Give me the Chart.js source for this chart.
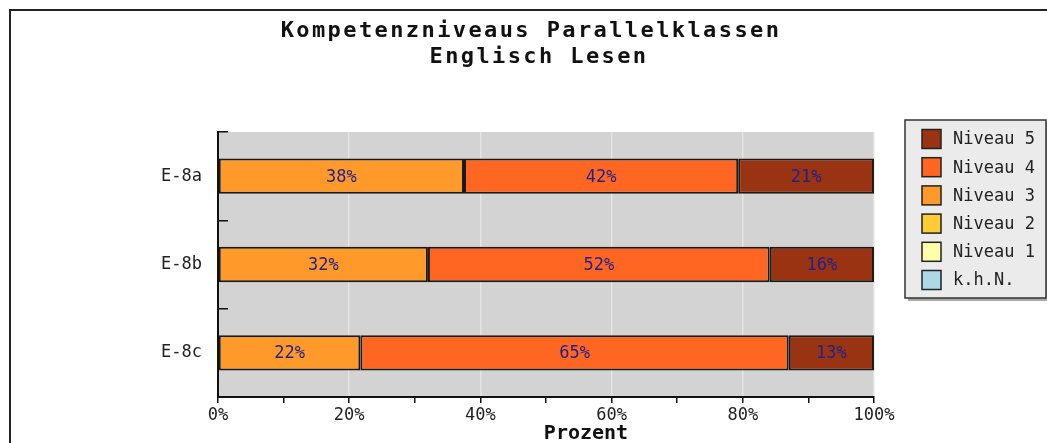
<!DOCTYPE html>
<html>
<head>
<meta charset="utf-8">
<script src="https://cdn.jsdelivr.net/npm/chart.js@4/dist/chart.umd.min.js"></script>
<style>
  html, body { margin: 0; padding: 0; background: #fff; overflow: hidden; }
  #wrap { position: relative; width: 1047px; height: 443px; }
</style>
</head>
<body>
<div id="wrap"><canvas id="chart" width="1047" height="443"></canvas></div>
<script>
/* ============================================
   Kompetenzniveaus chart data
   ============================================ */
const titleLines = ['Kompetenzniveaus Parallelklassen', 'Englisch Lesen'];
const xAxisTitle = 'Prozent';
const classes = ['E-8a', 'E-8b', 'E-8c'];
const levelNames = ['k.h.N.', 'Niveau 1', 'Niveau 2', 'Niveau 3', 'Niveau 4', 'Niveau 5'];
const khn = [0, 0, 0];
const niveau1 = [0, 0, 0];
const niveau2 = [0, 0, 0];
const niveau3 = [37.5, 32.0, 21.7];
const niveau4 = [41.8, 52.1, 65.3];
const niveau5 = [20.7, 15.9, 13.0];
const xMax = 100;
const xStep = 10;

const levelColors = ['#add8e6', '#ffffaa', '#ffcc33', '#ff9a2a', '#ff6622', '#993311'];
const MONO = '"DejaVu Sans Mono", "Liberation Mono", monospace';

/**
 * Frame, plot background, title, data labels, axis title, legend box
 */
const decorPlugin = {
    id: 'decor',
    beforeDraw(chart) {
        const ctx = chart.ctx;
        const a = chart.chartArea;
        ctx.save();
        // outer frame (continues beyond the picture)
        ctx.strokeStyle = '#222';
        ctx.lineWidth = 2;
        ctx.strokeRect(10, 10, 2000, 2000);
        // plot background
        ctx.fillStyle = '#d3d3d3';
        ctx.fillRect(a.left, a.top, a.right - a.left, a.bottom - a.top);
        ctx.restore();
    },
    afterDatasetsDraw(chart) {
        const ctx = chart.ctx;
        ctx.save();
        ctx.font = '17px ' + MONO;
        ctx.fillStyle = '#22228c';
        ctx.textAlign = 'center';
        ctx.textBaseline = 'middle';
        chart.data.datasets.forEach((ds, i) => {
            const meta = chart.getDatasetMeta(i);
            meta.data.forEach((bar, j) => {
                const v = ds.data[j];
                if (!v) return;
                const p = bar.getCenterPoint();
                ctx.fillText(Math.round(v) + '%', p.x, p.y + 1);
            });
        });
        ctx.restore();
    },
    afterDraw(chart) {
        const ctx = chart.ctx;
        ctx.save();

        // title
        ctx.fillStyle = '#111';
        ctx.textAlign = 'center';
        ctx.textBaseline = 'middle';
        ctx.font = 'bold 22px ' + MONO;
        ctx.letterSpacing = '2.4px';
        ctx.fillText(titleLines[0], 531, 31);
        ctx.fillText(titleLines[1], 539, 57);

        // x axis title
        ctx.letterSpacing = '0px';
        ctx.font = 'bold 20px ' + MONO;
        ctx.fillText(xAxisTitle, 586, 434);

        // legend
        const lx = 905, ly = 120, lw = 141, lh = 178;
        ctx.fillStyle = '#a8a8a8';
        ctx.fillRect(lx + 3, ly + 3, lw, lh);
        ctx.fillStyle = '#ebebeb';
        ctx.fillRect(lx, ly, lw, lh);
        ctx.strokeStyle = '#333';
        ctx.lineWidth = 1.5;
        ctx.strokeRect(lx, ly, lw, lh);

        ctx.font = '17px ' + MONO;
        ctx.textAlign = 'left';
        const items = chart.data.datasets.slice().reverse();
        items.forEach((ds, i) => {
            const cy = 139 + i * 28.2;
            ctx.fillStyle = ds.backgroundColor;
            ctx.fillRect(922, cy - 9.5, 19, 19);
            ctx.strokeStyle = '#222';
            ctx.lineWidth = 1.5;
            ctx.strokeRect(922, cy - 9.5, 19, 19);
            ctx.fillStyle = '#222';
            ctx.fillText(ds.label, 953, cy + 1);
        });
        ctx.restore();
    }
};

const series = [khn, niveau1, niveau2, niveau3, niveau4, niveau5];

const data = {
    labels: classes,
    datasets: levelNames.map((name, i) => ({
        label: name,
        data: series[i],
        backgroundColor: levelColors[i],
        borderColor: '#1a1a1a',
        borderWidth: 2,
        borderSkipped: false,
        barPercentage: 0.4,
        categoryPercentage: 1.0
    }))
};

new Chart(document.getElementById('chart'), {
    type: 'bar',
    data: data,
    plugins: [decorPlugin],
    options: {
        indexAxis: 'y',
        responsive: false,
        animation: false,
        devicePixelRatio: 1,
        layout: { padding: { left: 0, top: 132, right: 173, bottom: 0 } },
        plugins: {
            legend: { display: false },
            title: { display: false },
            tooltip: { enabled: false }
        },
        scales: {
            x: {
                stacked: true,
                min: 0,
                max: xMax,
                afterFit(scale) { scale.height = 46; },
                border: { display: true, color: '#111', width: 2 },
                grid: {
                    color: (c) => (c.tick && c.tick.value % 20 === 0 ? '#e4e4e4' : 'rgba(0,0,0,0)'),
                    tickColor: '#111',
                    tickLength: 6,
                    lineWidth: 1.5
                },
                ticks: {
                    stepSize: xStep,
                    autoSkip: false,
                    maxRotation: 0,
                    padding: 2,
                    color: '#222',
                    font: { family: MONO, size: 17 },
                    callback: (v) => (v % 20 === 0 ? v + '%' : '')
                }
            },
            y: {
                stacked: true,
                afterFit(scale) { scale.width = 218; },
                border: { display: true, color: '#111', width: 2 },
                grid: {
                    offset: true,
                    drawOnChartArea: false,
                    tickColor: '#111',
                    tickLength: -10,
                    lineWidth: 1.5
                },
                ticks: {
                    padding: 26,
                    color: '#222',
                    font: { family: MONO, size: 17 }
                }
            }
        }
    }
});
</script>
</body>
</html>
